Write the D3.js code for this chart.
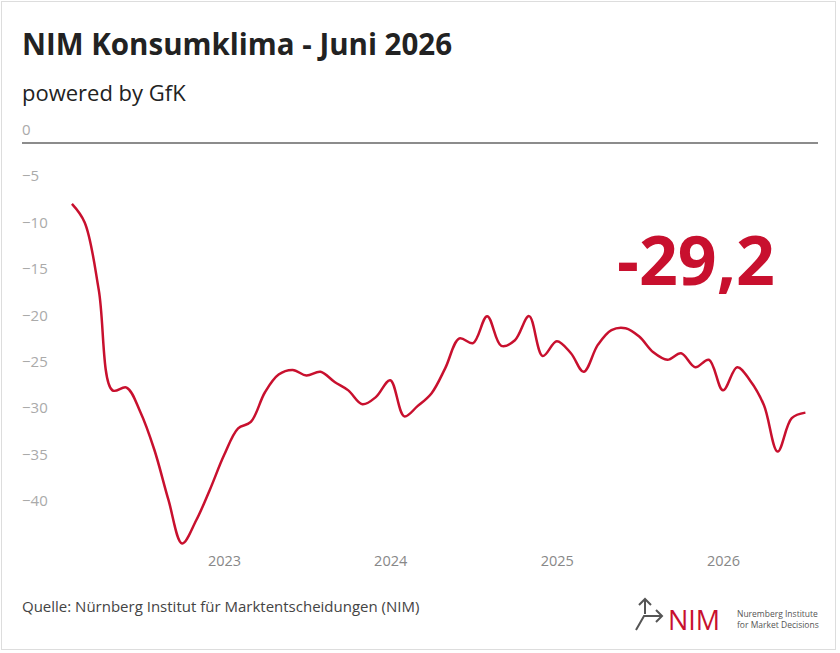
<!DOCTYPE html>
<html><head><meta charset="utf-8">
<script src="https://cdn.jsdelivr.net/npm/d3@7"></script>
<style>body{margin:0;background:#fff;font-family:"Open Sans",sans-serif}</style>
</head><body><svg id="c" width="840" height="653"></svg>
<script>
const values = [-8.0,-10.0,-17.3,-28.1,-27.8,-30.4,-34.5,-39.9,-44.6,-42.1,-38.8,-35.1,-32.2,-31.5,-28.3,-26.4,-25.9,-26.5,-26.1,-27.2,-28.1,-29.6,-28.8,-27.0,-30.9,-29.8,-28.4,-25.7,-22.5,-23.0,-20.1,-23.3,-22.7,-20.1,-24.4,-22.8,-24.1,-26.1,-23.2,-21.6,-21.4,-22.3,-24.0,-24.8,-24.1,-25.6,-24.8,-28.1,-25.6,-27.0,-29.7,-34.7,-31.1,-30.5];
const yTicks = [0,-5,-10,-15,-20,-25,-30,-35,-40];
const xTicks = [2023,2024,2025,2026];
const headline = "-29,2";

const data = values.map((v,i)=>({d:new Date(2022,1+i,1),v}));
const svg = d3.select("#c");
svg.append("rect").attr("x",1.5).attr("y",1.5).attr("width",834).attr("height",648).attr("fill","#fff").attr("stroke","#ddd");
svg.append("text").attr("x",22).attr("y",55).attr("font-size",29.5).attr("font-weight",700).attr("fill","#222").text("NIM Konsumklima - Juni 2026");
svg.append("text").attr("x",22).attr("y",101).attr("font-size",22).attr("fill","#222").text("powered by GfK");

const x = d3.scaleTime().domain([new Date(2023,0,1),new Date(2026,0,1)]).range([224,723]);
const y = d3.scaleLinear().domain([0,-40]).range([129.6,500.8]);

const ya = svg.append("g").attr("transform","translate(22,0)").call(d3.axisRight(y).tickValues(yTicks).tickSize(0).tickFormat(d=>d===0?"0":"\u2212"+Math.abs(d)));
ya.select(".domain").remove();
ya.selectAll("text").attr("x",0).attr("font-size",15).attr("fill","#aaa").attr("font-family","Open Sans");
svg.append("line").attr("x1",22).attr("x2",818).attr("y1",143).attr("y2",143).attr("stroke","#666").attr("stroke-width",1.5);

const xa = svg.append("g").attr("transform","translate(0,553)").call(d3.axisBottom(x).tickValues(xTicks.map(t=>new Date(t,0,1))).tickSize(0).tickFormat(d3.timeFormat("%Y")));
xa.select(".domain").remove();
xa.selectAll("text").attr("font-size",14.5).attr("fill","#888").attr("font-family","Open Sans");

svg.append("path").datum(data).attr("fill","none").attr("stroke","#c8102e").attr("stroke-width",2.5)
  .attr("d",d3.line().x(d=>x(d.d)).y(d=>y(d.v)).curve(d3.curveCatmullRom.alpha(0.5)));

svg.append("text").attr("x",696).attr("y",285).attr("text-anchor","middle").attr("font-size",68).attr("font-weight",700).attr("fill","#c8102e").text(headline);

svg.append("text").attr("x",22).attr("y",612).attr("font-size",15).attr("fill","#444").text("Quelle: Nürnberg Institut für Marktentscheidungen (NIM)");
const lg = svg.append("g").attr("fill","none").attr("stroke","#555").attr("stroke-width",2);
lg.append("path").attr("d","M636,630 L644,616 L662,616 M656,610 L662,616 L656,622 M645,599 L645,614 M639,605 L645,599 L651,605");
svg.append("text").attr("x",668).attr("y",630).attr("font-size",27).attr("fill","#c8102e").text("NIM");
svg.append("text").attr("x",737).attr("y",617).attr("font-size",8.5).attr("fill","#555").text("Nuremberg Institute");
svg.append("text").attr("x",737).attr("y",628).attr("font-size",8.5).attr("fill","#555").text("for Market Decisions");
</script></body></html>
